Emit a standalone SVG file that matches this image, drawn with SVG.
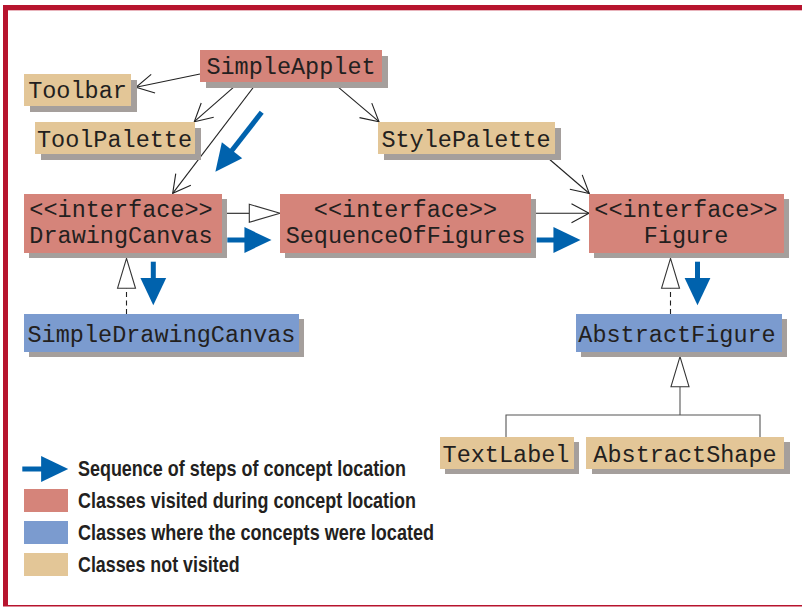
<svg xmlns="http://www.w3.org/2000/svg" width="802" height="607" viewBox="0 0 802 607">
<style>
.sh{fill:#a59f9c}
.r{fill:#d5847a}
.b{fill:#7b9bcf}
.t{fill:#e3c697}
.nt{font-family:"Liberation Mono","Courier New",monospace;font-size:23.5px;fill:#231f20;text-anchor:middle}
.ln{stroke:#222;stroke-width:1.1;fill:none}
.dash{stroke:#222;stroke-width:1.1;fill:none;stroke-dasharray:5,3.5}
.tri{fill:#fff;stroke:#333;stroke-width:1.1}
.blue{stroke:#0062ad;stroke-width:5;fill:none}
.lg{font-family:"Liberation Sans",Arial,sans-serif;font-weight:bold;font-size:22px;fill:#231f20}
</style>
<defs>
<marker id="open" markerUnits="userSpaceOnUse" markerWidth="40" markerHeight="40" refX="0" refY="0" viewBox="-20 -20 40 40" orient="auto" overflow="visible">
<path d="M-17.5,-9.5 L0,0 L-17.5,9.5" fill="none" stroke="#222" stroke-width="1.1"/>
</marker>
<marker id="bh" markerUnits="userSpaceOnUse" markerWidth="40" markerHeight="40" refX="1" refY="0" viewBox="-5 -20 45 40" orient="auto" overflow="visible">
<path d="M0,-14.5 L30.5,0 L0,14.5 Z" fill="#0062ad"/>
</marker>
</defs>
<rect width="802" height="607" fill="#fff"/>
<g id="frame">
<rect x="3" y="5" width="799" height="5" fill="#b7142e"/>
<rect x="3" y="10" width="799" height="1" fill="#e8b3bb"/>
<rect x="3" y="5" width="5" height="601" fill="#b7142e"/>
<rect x="3" y="605" width="799" height="1.5" fill="#b7142e"/>
</g>
<g id="connectors">
<line class="ln" x1="200" y1="74" x2="136" y2="87.3" marker-end="url(#open)"/>
<line class="ln" x1="240" y1="81.7" x2="194.3" y2="121.7" marker-end="url(#open)"/>
<line class="ln" x1="257.7" y1="81.7" x2="172.7" y2="193.3" marker-end="url(#open)"/>
<line class="ln" x1="331.7" y1="81.7" x2="379" y2="121.7" marker-end="url(#open)"/>
<line class="ln" x1="543.3" y1="154" x2="589.3" y2="193.5" marker-end="url(#open)"/>
<line class="ln" x1="531" y1="213.3" x2="589" y2="213.3" marker-end="url(#open)"/>
<line class="ln" x1="222" y1="213.3" x2="249.3" y2="213.3"/>
<polygon class="tri" points="249.3,204.3 280,213.3 249.3,222.3"/>
<line class="dash" x1="126.5" y1="314" x2="126.5" y2="288.3"/>
<polygon class="tri" points="117.5,288.3 126.5,258.3 135.5,288.3"/>
<line class="dash" x1="670.5" y1="314" x2="670.5" y2="288.3"/>
<polygon class="tri" points="661.5,288.3 670.5,258.3 679.5,288.3"/>
<polyline fill="none" stroke="#555" stroke-width="1.1" points="506,437 506,415 760,415 760,437"/>
<line x1="680" y1="415" x2="680" y2="386.7" stroke="#555" stroke-width="1.1"/>
<polygon class="tri" points="671,386.7 680,356.7 689,386.7"/>
<line class="blue" x1="261.7" y1="112.3" x2="231.5" y2="151" marker-end="url(#bh)"/>
<line class="blue" x1="227.3" y1="240" x2="245.3" y2="240" marker-end="url(#bh)"/>
<line class="blue" x1="536.7" y1="240" x2="554.3" y2="240" marker-end="url(#bh)"/>
<line class="blue" x1="153.3" y1="261.7" x2="153.3" y2="279" marker-end="url(#bh)"/>
<line class="blue" x1="697.5" y1="261.7" x2="697.5" y2="279" marker-end="url(#bh)"/>
</g>
<g id="SimpleApplet"><rect class="sh" x="206" y="56" width="182" height="32"/><rect class="r" x="200" y="50" width="182" height="32"/><text class="nt" x="291" y="74">SimpleApplet</text></g>
<g id="Toolbar"><rect class="sh" x="30" y="80" width="107" height="32"/><rect class="t" x="24" y="74" width="107" height="32"/><text class="nt" x="77.5" y="98">Toolbar</text></g>
<g id="ToolPalette"><rect class="sh" x="41" y="128" width="160" height="32"/><rect class="t" x="35" y="122" width="160" height="32"/><text class="nt" x="114.5" y="146.5">ToolPalette</text></g>
<g id="StylePalette"><rect class="sh" x="384" y="128" width="177" height="32"/><rect class="t" x="378" y="122" width="177" height="32"/><text class="nt" x="466" y="146.5">StylePalette</text></g>
<g id="DrawingCanvas"><rect class="sh" x="29" y="199" width="198" height="59"/><rect class="r" x="24" y="194" width="198" height="59"/><text class="nt" x="121" y="216.7">&lt;&lt;interface&gt;&gt;</text><text class="nt" x="121" y="242.7">DrawingCanvas</text></g>
<g id="SequenceOfFigures"><rect class="sh" x="285" y="199" width="251" height="59"/><rect class="r" x="280" y="194" width="251" height="59"/><text class="nt" x="405.5" y="216.7">&lt;&lt;interface&gt;&gt;</text><text class="nt" x="405.5" y="242.7">SequenceOfFigures</text></g>
<g id="Figure"><rect class="sh" x="594" y="199" width="195" height="59"/><rect class="r" x="589" y="194" width="195" height="59"/><text class="nt" x="686" y="216.7">&lt;&lt;interface&gt;&gt;</text><text class="nt" x="686" y="242.7">Figure</text></g>
<g id="SimpleDrawingCanvas"><rect class="sh" x="29" y="319" width="275" height="38"/><rect class="b" x="24" y="314" width="275" height="38"/><text class="nt" x="161.5" y="341.5">SimpleDrawingCanvas</text></g>
<g id="AbstractFigure"><rect class="sh" x="581" y="319" width="206" height="38"/><rect class="b" x="576" y="314" width="206" height="38"/><text class="nt" x="677" y="341.5">AbstractFigure</text></g>
<g id="TextLabel"><rect class="sh" x="445" y="442" width="134" height="32"/><rect class="t" x="440" y="437" width="134" height="32"/><text class="nt" x="506" y="461.5">TextLabel</text></g>
<g id="AbstractShape"><rect class="sh" x="592" y="442" width="198" height="32"/><rect class="t" x="586" y="437" width="198" height="32"/><text class="nt" x="685" y="461.5">AbstractShape</text></g>
<g id="legend">
<line class="blue" x1="22.3" y1="469" x2="42" y2="469" stroke-width="6" marker-end="url(#bh)"/>
<rect class="r" x="24" y="489" width="44" height="23"/>
<rect class="b" x="24" y="521" width="44" height="23"/>
<rect class="t" x="24" y="553" width="44" height="23"/>
<text class="lg" transform="translate(78,476) scale(0.815,1)" x="0" y="0" textLength="402.5" lengthAdjust="spacingAndGlyphs">Sequence of steps of concept location</text>
<text class="lg" transform="translate(78,508) scale(0.815,1)" x="0" y="0" textLength="414.7" lengthAdjust="spacingAndGlyphs">Classes visited during concept location</text>
<text class="lg" transform="translate(78,539.5) scale(0.815,1)" x="0" y="0" textLength="436.8" lengthAdjust="spacingAndGlyphs">Classes where the concepts were located</text>
<text class="lg" transform="translate(78,571.5) scale(0.815,1)" x="0" y="0" textLength="198.2" lengthAdjust="spacingAndGlyphs">Classes not visited</text>
</g>
</svg>
